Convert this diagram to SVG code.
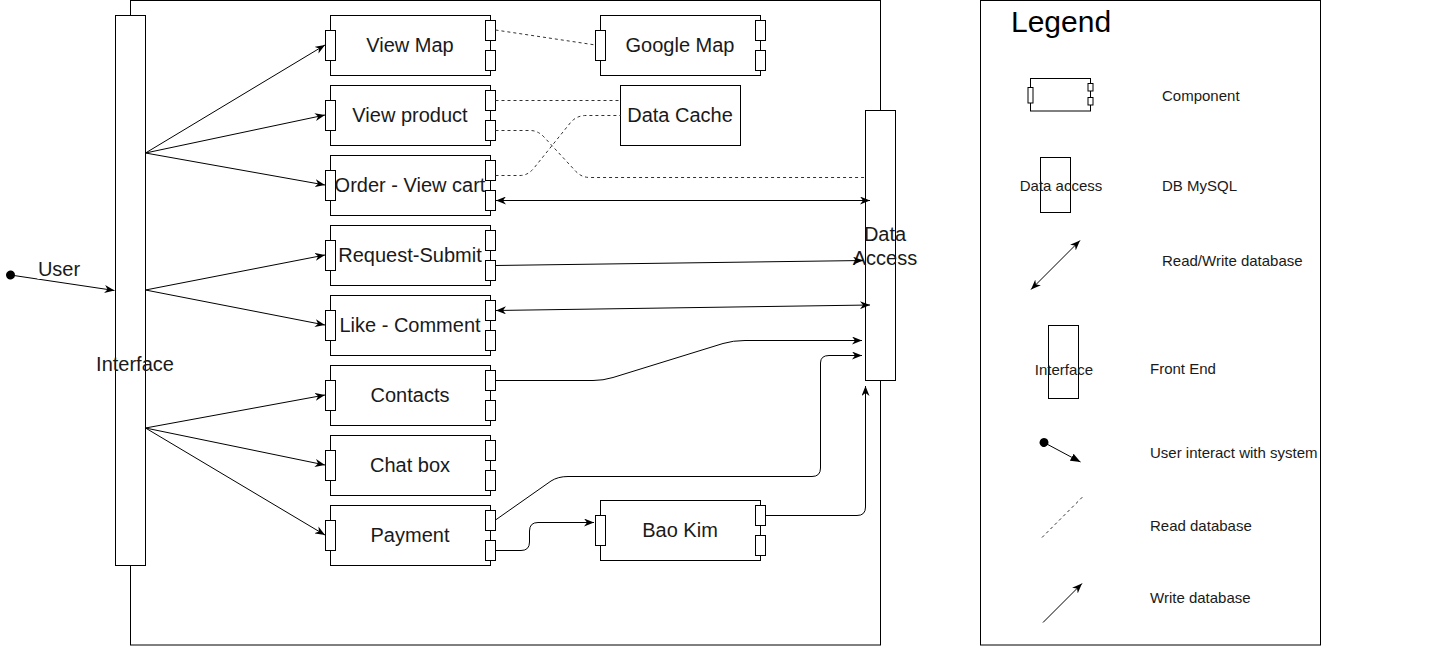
<svg xmlns="http://www.w3.org/2000/svg" width="1429" height="647" viewBox="0 0 1429 647">
<style>
.box{fill:#fff;stroke:#000;stroke-width:1}
.frame{fill:none;stroke:#000;stroke-width:1}
.port{fill:#fff;stroke:#000;stroke-width:1}
.lbl{font-family:"Liberation Sans",Arial,sans-serif;font-size:20px;fill:#1a1a1a;text-anchor:middle}
.sm{font-family:"Liberation Sans",Arial,sans-serif;font-size:15px;fill:#1a1a1a}
.smc{font-family:"Liberation Sans",Arial,sans-serif;font-size:15px;fill:#1a1a1a;text-anchor:middle}
.ttl{font-family:"Liberation Sans",Arial,sans-serif;font-size:30px;fill:#000}
.e{fill:none;stroke:#000;stroke-width:1}
.d{fill:none;stroke:#333;stroke-width:1;stroke-dasharray:3 3}
.a{marker-end:url(#arr)}
.aa{marker-end:url(#arr);marker-start:url(#arr)}
</style>
<defs>
<marker id="arr" markerUnits="userSpaceOnUse" markerWidth="10" markerHeight="8" viewBox="0 0 10 8" refX="10" refY="4" orient="auto-start-reverse">
<path d="M0,0 L10,4 L0,8 L3,4 z" fill="#000"/>
</marker>
<marker id="blk" markerUnits="userSpaceOnUse" markerWidth="10" markerHeight="8" viewBox="0 0 10 8" refX="10" refY="4" orient="auto">
<path d="M0,0 L10,4 L0,8 z" fill="#000"/>
</marker>
<marker id="dot" markerUnits="userSpaceOnUse" markerWidth="10" markerHeight="10" viewBox="0 0 10 10" refX="5" refY="5" orient="auto">
<circle cx="5" cy="5" r="4.5" fill="#000"/>
</marker>
</defs>
<rect width="1429" height="647" fill="#fff"/>
<g id="container">
<rect class="frame" x="130.5" y="0.5" width="750" height="644.5"/>
</g>
<g id="interface">
<rect class="box" x="115.5" y="15.5" width="30" height="550"/>
<text class="lbl" x="135" y="371">Interface</text>
</g>
<g id="data-access">
<rect class="box" x="865.5" y="110.5" width="30" height="270"/>
<text class="lbl" x="885" y="241">Data</text>
<text class="lbl" x="885" y="265">Access</text>
</g>
<g id="view-map">
<rect class="box" x="330.5" y="15.5" width="160" height="60"/>
<rect class="port" x="325.5" y="30.5" width="10" height="30"/>
<rect class="port" x="485.5" y="20.5" width="10" height="20"/>
<rect class="port" x="485.5" y="50.5" width="10" height="20"/>
<text class="lbl" x="410" y="52">View Map</text>
</g>
<g id="view-product">
<rect class="box" x="330.5" y="85.5" width="160" height="60"/>
<rect class="port" x="325.5" y="100.5" width="10" height="30"/>
<rect class="port" x="485.5" y="90.5" width="10" height="20"/>
<rect class="port" x="485.5" y="120.5" width="10" height="20"/>
<text class="lbl" x="410" y="122">View product</text>
</g>
<g id="order-view-cart">
<rect class="box" x="330.5" y="155.5" width="160" height="60"/>
<rect class="port" x="325.5" y="170.5" width="10" height="30"/>
<rect class="port" x="485.5" y="160.5" width="10" height="20"/>
<rect class="port" x="485.5" y="190.5" width="10" height="20"/>
<text class="lbl" x="410" y="192">Order - View cart</text>
</g>
<g id="request-submit">
<rect class="box" x="330.5" y="225.5" width="160" height="60"/>
<rect class="port" x="325.5" y="240.5" width="10" height="30"/>
<rect class="port" x="485.5" y="230.5" width="10" height="20"/>
<rect class="port" x="485.5" y="260.5" width="10" height="20"/>
<text class="lbl" x="410" y="262">Request-Submit</text>
</g>
<g id="like-comment">
<rect class="box" x="330.5" y="295.5" width="160" height="60"/>
<rect class="port" x="325.5" y="310.5" width="10" height="30"/>
<rect class="port" x="485.5" y="300.5" width="10" height="20"/>
<rect class="port" x="485.5" y="330.5" width="10" height="20"/>
<text class="lbl" x="410" y="332">Like - Comment</text>
</g>
<g id="contacts">
<rect class="box" x="330.5" y="365.5" width="160" height="60"/>
<rect class="port" x="325.5" y="380.5" width="10" height="30"/>
<rect class="port" x="485.5" y="370.5" width="10" height="20"/>
<rect class="port" x="485.5" y="400.5" width="10" height="20"/>
<text class="lbl" x="410" y="402">Contacts</text>
</g>
<g id="chat-box">
<rect class="box" x="330.5" y="435.5" width="160" height="60"/>
<rect class="port" x="325.5" y="450.5" width="10" height="30"/>
<rect class="port" x="485.5" y="440.5" width="10" height="20"/>
<rect class="port" x="485.5" y="470.5" width="10" height="20"/>
<text class="lbl" x="410" y="472">Chat box</text>
</g>
<g id="payment">
<rect class="box" x="330.5" y="505.5" width="160" height="60"/>
<rect class="port" x="325.5" y="520.5" width="10" height="30"/>
<rect class="port" x="485.5" y="510.5" width="10" height="20"/>
<rect class="port" x="485.5" y="540.5" width="10" height="20"/>
<text class="lbl" x="410" y="542">Payment</text>
</g>
<g id="google-map">
<rect class="box" x="600.5" y="15.5" width="160" height="60"/>
<rect class="port" x="595.5" y="30.5" width="10" height="30"/>
<rect class="port" x="755.5" y="20.5" width="10" height="20"/>
<rect class="port" x="755.5" y="50.5" width="10" height="20"/>
<text class="lbl" x="680" y="52">Google Map</text>
</g>
<g id="data-cache">
<rect class="box" x="620.5" y="85.5" width="120" height="60"/>
<text class="lbl" x="680" y="122">Data Cache</text>
</g>
<g id="bao-kim">
<rect class="box" x="600.5" y="500.5" width="160" height="60"/>
<rect class="port" x="595.5" y="515.5" width="10" height="30"/>
<rect class="port" x="755.5" y="505.5" width="10" height="20"/>
<rect class="port" x="755.5" y="535.5" width="10" height="20"/>
<text class="lbl" x="680" y="537">Bao Kim</text>
</g>
<g id="connectors">
<line class="e a" x1="10.5" y1="275" x2="114.5" y2="290.5" marker-start="url(#dot)"/>
<rect x="37.5" y="258" width="44" height="21" fill="#fff"/>
<text class="lbl" x="59" y="276">User</text>
<line class="e a" x1="145.5" y1="153" x2="325" y2="45"/>
<line class="e a" x1="145.5" y1="153" x2="325" y2="115"/>
<line class="e a" x1="145.5" y1="153" x2="325" y2="185"/>
<line class="e a" x1="145.5" y1="290" x2="325" y2="255"/>
<line class="e a" x1="145.5" y1="290" x2="325" y2="325"/>
<line class="e a" x1="145.5" y1="428" x2="325" y2="395"/>
<line class="e a" x1="145.5" y1="428" x2="325" y2="465"/>
<line class="e a" x1="145.5" y1="428" x2="325" y2="535"/>
<line class="d" x1="495.5" y1="30" x2="595.5" y2="45"/>
<line class="d" x1="495.5" y1="100.5" x2="620.5" y2="100.5"/>
<path class="d" d="M495.5,130.5 L530,130.5 Q538,130.5 544,137 L575,170.5 Q581,177.5 590,177.5 L865,177.5"/>
<path class="d" d="M495.5,175.5 L520,175.5 Q528,175.5 534,168 L571,122 Q577,115.5 586,115.5 L620.5,115.5"/>
<line class="e aa" x1="496" y1="200.5" x2="870" y2="200.5"/>
<line class="e a" x1="495.5" y1="265.5" x2="863" y2="260.5"/>
<line class="e aa" x1="496" y1="310.5" x2="870" y2="305"/>
<path class="e a" d="M495.5,380.5 L593,380.5 Q603,380.5 613,377.5 L723,343.5 Q733,340.5 745,340.5 L862,340.5"/>
<path class="e a" d="M495.5,520 L551,481 Q558,476.5 568,476.5 L812,476.5 Q820.5,476.5 820.5,468 L820.5,363 Q820.5,355.5 829,355.5 L862,355.5"/>
<path class="e a" d="M495.5,550.5 L521,550.5 Q529.5,550.5 529.5,542 L529.5,531 Q529.5,522.5 538,522.5 L594,522.5"/>
<path class="e a" d="M765.5,515.5 L857,515.5 Q865.5,515.5 865.5,507 L865.5,386"/>
</g>
<g id="legend">
<rect class="frame" x="980.5" y="0.5" width="340" height="644.5"/>
<text class="ttl" x="1011" y="31.5">Legend</text>
<g id="legend-component">
<rect class="box" x="1030.5" y="78.5" width="60" height="32.5"/>
<rect class="port" x="1028" y="87.5" width="5" height="15.5"/>
<rect class="port" x="1088" y="83.5" width="5" height="7.5"/>
<rect class="port" x="1088" y="97.5" width="5" height="7.5"/>
</g>
<text class="sm" x="1162" y="101">Component</text>
<g id="legend-data-access">
<rect class="box" x="1040.5" y="157.5" width="30" height="55"/>
<text class="smc" x="1061" y="191">Data access</text>
</g>
<text class="sm" x="1162" y="191">DB MySQL</text>
<line class="e aa" x1="1031" y1="289.5" x2="1080" y2="240.5"/>
<text class="sm" x="1162" y="266">Read/Write database</text>
<g id="legend-interface">
<rect class="box" x="1048.5" y="325.5" width="30" height="73"/>
<text class="smc" x="1064" y="375">Interface</text>
</g>
<text class="sm" x="1150" y="374">Front End</text>
<line class="e" x1="1044" y1="442.5" x2="1080.5" y2="462" marker-start="url(#dot)" marker-end="url(#blk)"/>
<text class="sm" x="1150" y="458">User interact with system</text>
<line class="d" x1="1042" y1="537.5" x2="1083" y2="496.5"/>
<text class="sm" x="1150" y="531">Read database</text>
<line class="e a" x1="1043" y1="622.5" x2="1082" y2="583.5"/>
<text class="sm" x="1150" y="603">Write database</text>
</g>
</svg>
